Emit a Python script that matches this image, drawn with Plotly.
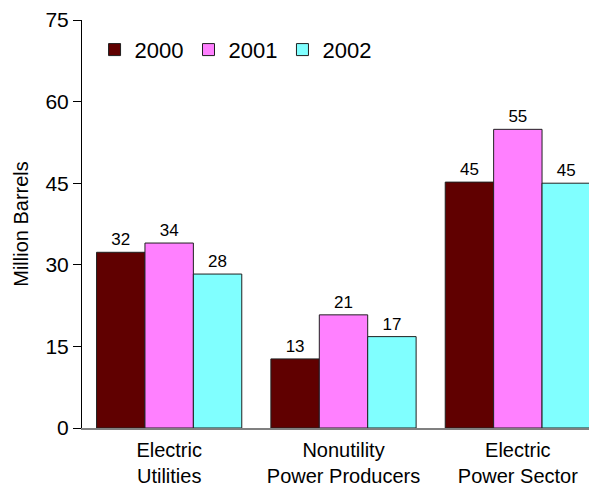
import plotly.graph_objects as go

# categories and series (million barrels)
categories = ["Electric<br>Utilities", "Nonutility<br>Power Producers", "Electric<br>Power Sector"]
years = ["2000", "2001", "2002"]
vals_2000 = [32.3, 12.7, 45.2]
vals_2001 = [34.0, 20.8, 54.9]
vals_2002 = [28.3, 16.8, 45.0]
colors = ["#600000", "#FF80FF", "#80FFFF"]
y_ticks = [0, 15, 30, 45, 60, 75]

fig = go.Figure()
for name, vals, col in zip(years, [vals_2000, vals_2001, vals_2002], colors):
    fig.add_trace(go.Bar(
        x=categories, y=vals, name=name,
        marker=dict(color=col, line=dict(color="#202020", width=1)),
        text=vals, texttemplate="%{y:.0f}", textposition="outside",
        textfont=dict(size=17, color="black"), cliponaxis=False,
    ))

# page body adds an 8px offset, so margins are trimmed by 8
fig.update_layout(
    barmode="group", bargap=0.167, bargroupgap=0,
    width=597, height=488,
    margin=dict(l=74, r=0, t=10, b=68),
    plot_bgcolor="white", paper_bgcolor="white",
    font=dict(family="Arial, Liberation Sans, sans-serif", size=18, color="black"),
    showlegend=True,
    legend=dict(orientation="h", x=0.024, y=0.927, xanchor="left", yanchor="middle",
                font=dict(size=22), bgcolor="rgba(0,0,0,0)", itemwidth=30),
    yaxis=dict(
        range=[0, 75], tickvals=y_ticks, ticks="outside", ticklen=8,
        tickcolor="black", showline=True, linecolor="black", linewidth=1,
        showgrid=False, zeroline=False, tickfont=dict(size=21),
        ticklabeloverflow="allow",
        title=dict(text="Million Barrels", font=dict(size=20), standoff=11),
    ),
    xaxis=dict(showline=True, linecolor="#808080", linewidth=2,
               ticks="", showgrid=False, tickfont=dict(size=20),
               ticklabelstandoff=3),
)

fig.write_html("out.html")
